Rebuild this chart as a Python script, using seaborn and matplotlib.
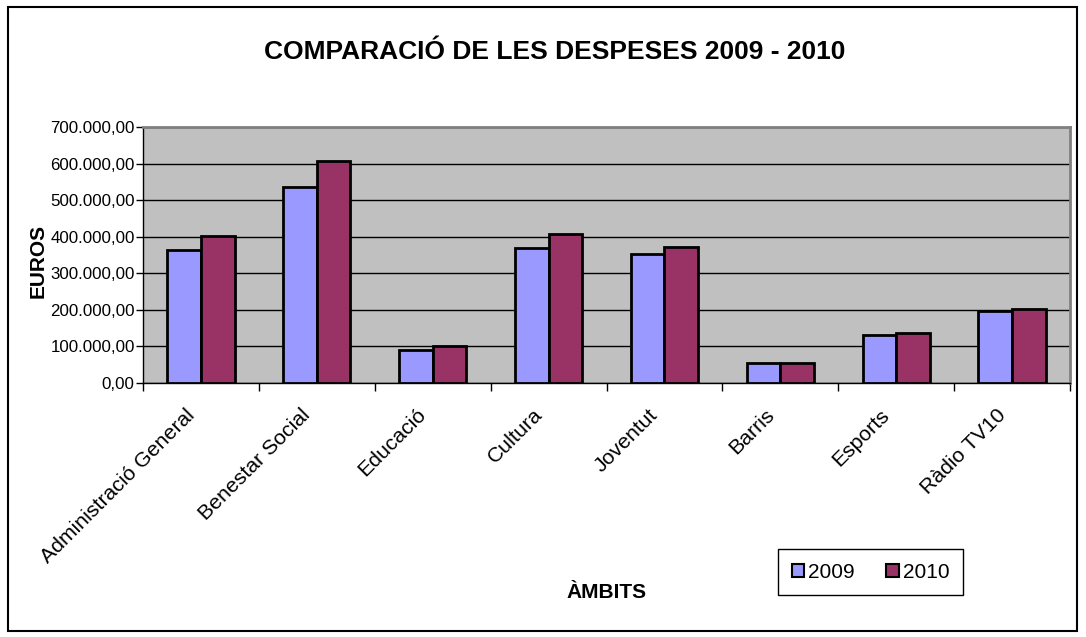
import matplotlib
matplotlib.use("Agg")
import matplotlib.pyplot as plt  # For drawing
import matplotlib.ticker as mticker  # For the euro tick format
import matplotlib.patches as mpatches  # For the outer frame
import matplotlib.transforms as mtransforms  # For nudging the slanted labels
import pandas as pd  # For the long-form table seaborn wants
import seaborn as sns  # For the grouped bars

# Chart data
ambits = ["Administració General", "Benestar Social", "Educació", "Cultura",
          "Joventut", "Barris", "Esports", "Ràdio TV10"]
despeses_2009 = [363500, 536000, 91000, 370000, 354000, 54500, 130000, 197000]
despeses_2010 = [401700, 606000, 101500, 407000, 371000, 54000, 136000, 203000]
anys = ["2009", "2010"]
colors = ["#9999FF", "#993366"]

# Long-form table for seaborn
df = pd.DataFrame({
    "ambit": ambits * 2,
    "euros": despeses_2009 + despeses_2010,
    "any": [anys[0]] * len(ambits) + [anys[1]] * len(ambits),
})

sns.set_style("white")
plt.rcParams["font.family"] = ["Liberation Sans", "DejaVu Sans"]
plt.rcParams["text.color"] = "black"
plt.rcParams["xtick.color"] = "black"
plt.rcParams["ytick.color"] = "black"

fig = plt.figure(figsize=(10.86, 6.37), dpi=100)
ax = fig.add_axes([143 / 1086, 1 - 383 / 637, (1070 - 143) / 1086, (383 - 127) / 637])

sns.barplot(data=df, x="ambit", y="euros", hue="any", palette=colors, saturation=1,
            edgecolor="black", linewidth=2, width=0.58, ax=ax, zorder=3)
ax.get_legend().remove()

# Plot area look (old spreadsheet style)
ax.set_facecolor("#C0C0C0")
ax.set_ylim(0, 700000)
ax.set_xlim(-0.5, len(ambits) - 0.5)
ax.yaxis.set_major_locator(mticker.MultipleLocator(100000))
ax.yaxis.set_major_formatter(mticker.FuncFormatter(
    lambda v, p: f"{v:,.2f}".replace(",", "X").replace(".", ",").replace("X", ".")))
ax.grid(axis="y", color="black", linewidth=1, zorder=0)
ax.set_axisbelow(True)
for side in ["top", "right"]:
    ax.spines[side].set_color("#808080")
    ax.spines[side].set_linewidth(2)
for side in ["left", "bottom"]:
    ax.spines[side].set_color("black")
    ax.spines[side].set_linewidth(1)

ax.tick_params(axis="y", direction="out", length=5, width=1, color="black",
               labelsize=12.2, pad=1, left=True)
ax.tick_params(axis="x", which="major", length=0, labelsize=15.3, pad=16)
ax.set_xticks([i + 0.5 for i in range(-1, len(ambits))], minor=True)
ax.tick_params(axis="x", which="minor", direction="out", length=6, width=1,
               color="black", bottom=True)
ax.set_xticks(range(len(ambits)))
ax.set_xticklabels(ambits, rotation=45, ha="right", va="top", rotation_mode="anchor")
# shift the slanted labels a bit to the left, like the original
shift = mtransforms.ScaledTranslation(-16 / 100, 0, fig.dpi_scale_trans)
for lbl in ax.get_xticklabels():
    lbl.set_transform(lbl.get_transform() + shift)
ax.set_xlabel("")
ax.set_ylabel("")

# Titles
fig.text(0.511, 1 - 52 / 637, "COMPARACIÓ DE LES DESPESES 2009 - 2010",
         ha="center", va="center", fontsize=19, fontweight="bold")
fig.text(38 / 1086, 1 - 261 / 637, "EUROS", ha="center", va="center",
         rotation=90, fontsize=15, fontweight="bold")
fig.text(607 / 1086, 1 - 592 / 637, "ÀMBITS", ha="center", va="center",
         fontsize=15, fontweight="bold")

# Legend box
handles = [mpatches.Patch(facecolor=c, edgecolor="black", linewidth=1.5) for c in colors]
fig.legend(handles, anys, loc="center", bbox_to_anchor=(0.8015, 0.102), ncol=2,
           fancybox=False, edgecolor="black", framealpha=1, fontsize=15,
           handlelength=0.6, handleheight=0.6, handletextpad=0.2,
           columnspacing=1.5, borderpad=0.65)

# Outer frame of the chart
fig.patches.append(mpatches.Rectangle((8 / 1086, 1 - 631 / 637), (1077 - 8) / 1086,
                                      (631 - 7) / 637, transform=fig.transFigure,
                                      fill=False, edgecolor="black", linewidth=1.5))

fig.savefig("out.png", dpi=100)
